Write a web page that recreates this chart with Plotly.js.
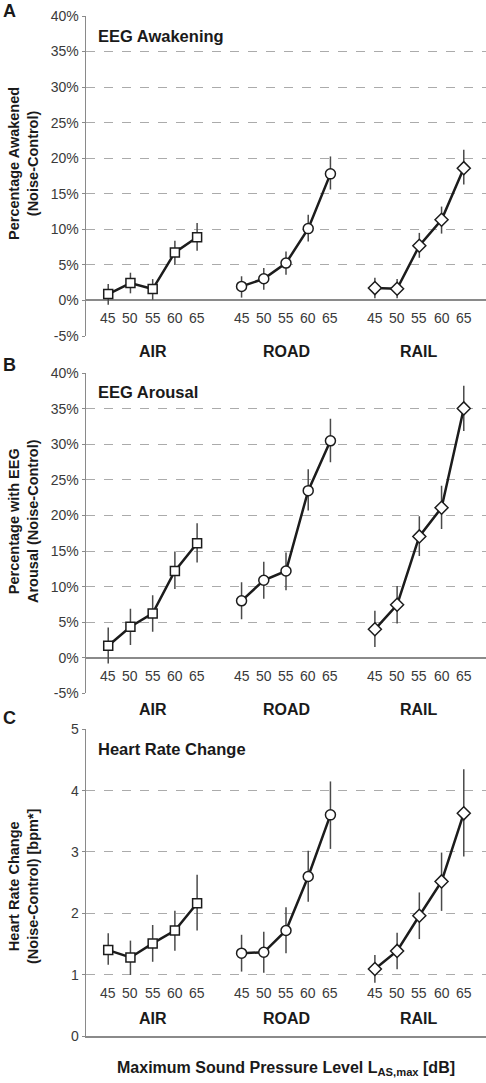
<!DOCTYPE html>
<html>
<head>
<meta charset="utf-8">
<script src="https://cdn.plot.ly/plotly-3.0.1.min.js"></script>
<style>html,body{margin:0;padding:0;background:#fff;}#chart{width:486px;height:1083px;}</style>
</head>
<body>
<div id="chart"></div>
<script>
// ---- data ----
const levels = ['45', '50', '55', '60', '65'];
const sources = ['AIR', 'ROAD', 'RAIL'];
const markerSymbols = ['square', 'circle', 'diamond'];
const pctTicks = [-5, 0, 5, 10, 15, 20, 25, 30, 35, 40];
const pctTickText = ['-5%', '0%', '5%', '10%', '15%', '20%', '25%', '30%', '35%', '40%'];
const hrTicks = [0, 1, 2, 3, 4, 5];
const hrTickText = ['0', '1', '2', '3', '4', '5'];

// Panel A: EEG Awakening (%)
const awakAir = [0.9, 2.45, 1.6, 6.75, 8.9];
const awakAirHi = [2.3, 3.9, 3.0, 8.4, 10.9];
const awakAirLo = [-0.6, 1.0, 0.1, 5.0, 7.0];
const awakRoad = [1.97, 3.05, 5.25, 10.1, 17.8];
const awakRoadHi = [3.4, 4.55, 6.9, 12.05, 20.25];
const awakRoadLo = [0.4, 1.5, 3.6, 8.3, 15.6];
const awakRail = [1.74, 1.65, 7.7, 11.35, 18.6];
const awakRailHi = [3.2, 3.0, 9.5, 13.2, 21.2];
const awakRailLo = [0.3, 0.3, 6.0, 9.4, 16.3];

// Panel B: EEG Arousal (%)
const arouAir = [1.69, 4.36, 6.23, 12.2, 16.1];
const arouAirHi = [4.26, 6.9, 8.8, 14.95, 18.9];
const arouAirLo = [-0.8, 1.8, 3.66, 9.66, 13.4];
const arouRoad = [8.0, 10.9, 12.2, 23.5, 30.5];
const arouRoadHi = [10.6, 13.5, 14.8, 26.5, 33.6];
const arouRoadLo = [5.4, 8.3, 9.5, 20.7, 27.5];
const arouRail = [4.0, 7.45, 17.06, 21.1, 35.06];
const arouRailHi = [6.6, 10.1, 19.9, 24.2, 38.25];
const arouRailLo = [1.5, 4.8, 14.3, 18.1, 31.9];

// Panel C: Heart rate change (bpm)
const hrAir = [1.40, 1.28, 1.51, 1.72, 2.165];
const hrAirHi = [1.675, 1.555, 1.81, 2.04, 2.63];
const hrAirLo = [1.16, 0.995, 1.21, 1.39, 1.72];
const hrRoad = [1.35, 1.365, 1.72, 2.60, 3.605];
const hrRoadHi = [1.65, 1.70, 2.10, 3.02, 4.15];
const hrRoadLo = [1.05, 1.03, 1.35, 2.19, 3.05];
const hrRail = [1.093, 1.387, 1.96, 2.52, 3.63];
const hrRailHi = [1.32, 1.685, 2.34, 2.99, 4.35];
const hrRailLo = [0.87, 1.09, 1.58, 2.04, 2.925];

const panelLetters = ['A', 'B', 'C'];
const panelTitles = ['EEG Awakening', 'EEG Arousal', 'Heart Rate Change'];
const yTitles = ['Percentage Awakened<br>(Noise-Control)', 'Percentage with EEG<br>Arousal (Noise-Control)', 'Heart Rate Change<br>(Noise-Control) [bpm*]'];
const xTitle = 'Maximum Sound Pressure Level L<sub>AS,max</sub> [dB]';

// ---- layout helpers ----
const W = 486, H = 1083;
const L = 86, R = 0, T = 16, B = 47;
const PW = W - L - R, PH = H - T - B;
const px2x = px => (px - L) / PW;
const py2y = py => (H - B - py) / PH;

const panels = [
  {top: 16, bottom: 336, range: [-5, 40], tv: pctTicks, tt: pctTickText, levelY: -2.45, catPy: 351,
   series: [[awakAir, awakAirHi, awakAirLo], [awakRoad, awakRoadHi, awakRoadLo], [awakRail, awakRailHi, awakRailLo]],
   titlePy: 36, letterPy: 11, yTitlePy: 164},
  {top: 373.3, bottom: 693.3, range: [-5, 40], tv: pctTicks, tt: pctTickText, levelY: -2.6, catPy: 709.5,
   series: [[arouAir, arouAirHi, arouAirLo], [arouRoad, arouRoadHi, arouRoadLo], [arouRail, arouRailHi, arouRailLo]],
   titlePy: 392, letterPy: 365, yTitlePy: 521},
  {top: 729.3, bottom: 1036, range: [0, 5], tv: hrTicks, tt: hrTickText, levelY: 0.7, catPy: 1018,
   series: [[hrAir, hrAirHi, hrAirLo], [hrRoad, hrRoadHi, hrRoadLo], [hrRail, hrRailHi, hrRailLo]],
   titlePy: 748.5, letterPy: 718, yTitlePy: 886}
];

const slotOf = (s, i) => s * 6 + i;

const SANS = '"Liberation Sans", Arial, sans-serif';
const tickFont = {family: SANS, size: 14, color: '#3a3a3a'};
const boldFont = (size) => ({family: SANS, size: size, color: '#1a1a1a', weight: 'bold'});

const traces = [];
const annotations = [];
const layout = {
  width: W, height: H,
  margin: {l: L, r: R, t: T, b: B, pad: 0},
  paper_bgcolor: '#ffffff', plot_bgcolor: '#ffffff',
  showlegend: false,
  annotations: annotations
};

panels.forEach((p, k) => {
  const n = k === 0 ? '' : String(k + 1);
  const xa = 'x' + n, ya = 'y' + n;
  layout['xaxis' + n] = {
    anchor: ya, range: [-1, 17], showgrid: false, zeroline: false,
    showticklabels: false, ticks: '',
    showline: k === 2, linecolor: '#8a8a8a', linewidth: 2,
    fixedrange: true
  };
  layout['yaxis' + n] = {
    anchor: xa, domain: [py2y(p.bottom), py2y(p.top)],
    range: p.range, tickmode: 'array', tickvals: p.tv, ticktext: p.tt,
    showgrid: true, gridcolor: '#ababab', gridwidth: 1, griddash: 'dash',
    zeroline: k !== 2, zerolinecolor: '#8a8a8a', zerolinewidth: 2,
    showline: true, linecolor: '#8a8a8a', linewidth: 1.5,
    ticks: 'outside', ticklen: 3, tickcolor: '#8a8a8a', tickwidth: 1,
    tickfont: tickFont, fixedrange: true
  };

  p.series.forEach((ser, s) => {
    const [v, hi, lo] = ser;
    traces.push({
      type: 'scatter', mode: 'lines+markers', xaxis: xa, yaxis: ya,
      x: levels.map((_, i) => slotOf(s, i)), y: v,
      line: {color: '#1c1c1c', width: 2.5},
      marker: {symbol: markerSymbols[s], size: s === 0 ? 9 : 10,
               color: '#ffffff', line: {color: '#1c1c1c', width: 1.5}},
      error_y: {type: 'data', symmetric: false,
                array: v.map((d, i) => hi[i] - d), arrayminus: v.map((d, i) => d - lo[i]),
                color: '#4a4a4a', thickness: 1.5, width: 0},
      hoverinfo: 'skip', cliponaxis: false
    });
    levels.forEach((lv, i) => {
      annotations.push({xref: xa, yref: ya, x: slotOf(s, i), y: p.levelY, text: lv, showarrow: false,
        font: tickFont, xanchor: 'center', yanchor: 'middle'});
    });
    annotations.push({xref: xa, yref: 'paper', x: slotOf(s, 2), y: py2y(p.catPy), text: sources[s], showarrow: false,
      font: boldFont(16), xanchor: 'center', yanchor: 'middle'});
  });

  annotations.push({xref: 'paper', yref: 'paper', x: px2x(1), y: py2y(p.letterPy), text: panelLetters[k], showarrow: false,
    font: boldFont(18), xanchor: 'left', yanchor: 'middle'});
  annotations.push({xref: 'paper', yref: 'paper', x: px2x(96), y: py2y(p.titlePy), text: panelTitles[k], showarrow: false,
    font: boldFont(16.5), xanchor: 'left', yanchor: 'middle'});
  annotations.push({xref: 'paper', yref: 'paper', x: px2x(23), y: py2y(p.yTitlePy), text: yTitles[k], showarrow: false,
    textangle: -90, font: boldFont(14.5), xanchor: 'center', yanchor: 'middle'});
});

annotations.push({xref: 'paper', yref: 'paper', x: 0.5, y: py2y(1068), text: xTitle, showarrow: false,
  font: boldFont(16), xanchor: 'center', yanchor: 'middle'});

Plotly.newPlot('chart', traces, layout, {displayModeBar: false, staticPlot: true});
</script>
</body>
</html>
